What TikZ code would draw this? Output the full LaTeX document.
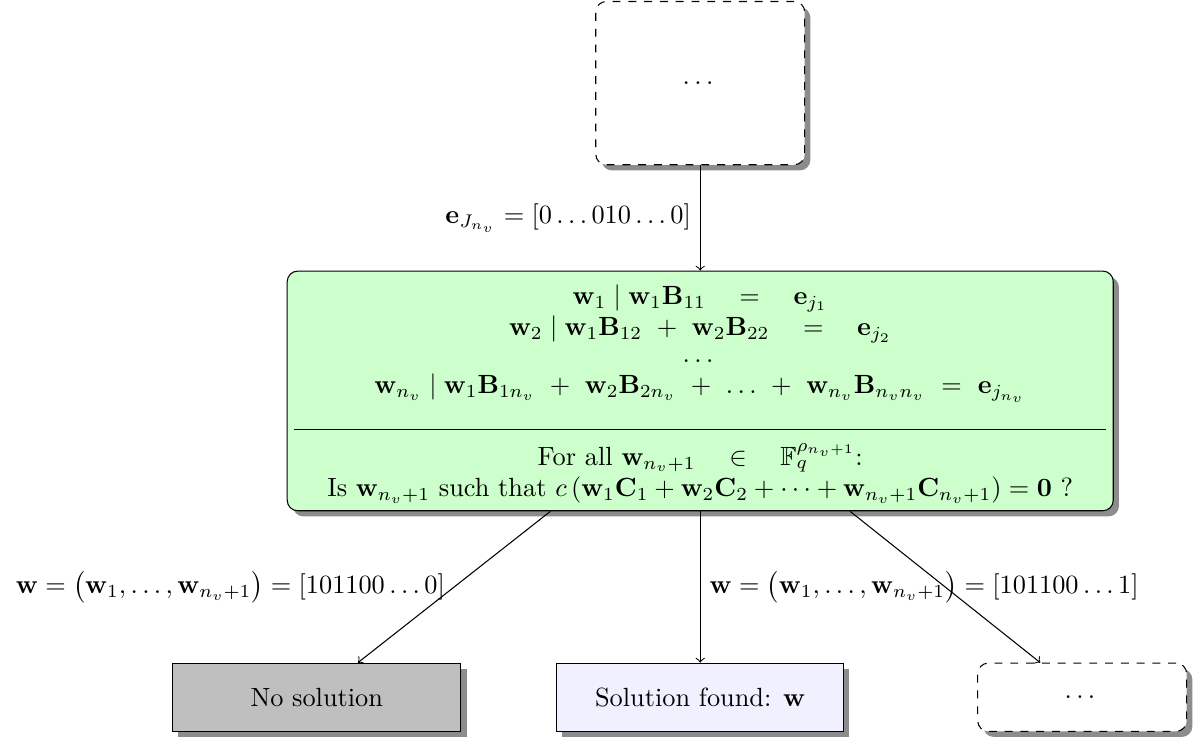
\documentclass[tikz,border=0pt]{standalone}
\usepackage{amsmath,amssymb}
\usetikzlibrary{shadows,calc}

\begin{document}
\begin{tikzpicture}[>=to,
		box/.style={draw, fill=white, drop shadow={opacity=1, fill=black!45}, minimum height=0.91cm},
		morebox/.style={box, dashed, rounded corners}]
		\useasboundingbox (0,0) rectangle (15.97,-9.855);
		\node[morebox, minimum width=2.79cm, minimum height=2.18cm] (top) at (9.35,-1.11) {$\dots$};
		\node[box, rounded corners, fill=green!20, minimum width=11.03cm, minimum height=3.2cm] (check) at (9.35,-5.22) {};
		\node[align=center] (eqs) at ($(check.center)+(0,0.63)$) {%
			$\mathbf{w}_1 \mid \mathbf{w}_1\mathbf{B}_{11} \quad = \quad \mathbf{e}_{j_1}$\\
			$\mathbf{w}_2 \mid \mathbf{w}_1\mathbf{B}_{12} \ + \ \mathbf{w}_2\mathbf{B}_{22} \quad = \quad \mathbf{e}_{j_2}$\\[-2pt]
			$\dots$\\
			$\mathbf{w}_{n_v} \mid \mathbf{w}_1\mathbf{B}_{1n_v} \ + \ \mathbf{w}_2\mathbf{B}_{2n_v} \ + \ \ldots \ + \ \mathbf{w}_{n_v}\mathbf{B}_{n_vn_v} \ = \ \mathbf{e}_{j_{n_v}}$};
		\draw ($(check.west)+(0.1,-0.52)$) -- ($(check.east)+(-0.1,-0.52)$);
		\node[align=center] (test) at ($(check.center)+(0,-1.1)$) {%
			For all $\mathbf{w}_{n_v+1} \quad \in \quad \mathbb{F}_q^{\rho_{n_v+1}}$:\\
			Is $\mathbf{w}_{n_v+1}$ such that $c\left(\mathbf{w}_1\mathbf{C}_1 + \mathbf{w}_2\mathbf{C}_2 + \cdots + \mathbf{w}_{n_v+1}\mathbf{C}_{n_v+1}\right) = \mathbf{0}$ ?};
		\node[box, fill=gray!50, minimum width=3.85cm] (nosol) at (4.23,-9.31) {No solution};
		\node[box, fill=blue!6, minimum width=3.83cm] (found) at (9.35,-9.31) {Solution found: $\mathbf{w}$};
		\node[morebox, minimum width=2.79cm] (more) at (14.45,-9.31) {$\dots$};
		% connectors
		\draw[->] (top) -- node[left] {$\mathbf{e}_{J_{n_v}} = [0\dots010\dots0]$} (check);
		\draw[->] ($(check.south)+(-2.0,0)$) -- node[left] {$\mathbf{w} = \bigl(\mathbf{w}_1,\dots,\mathbf{w}_{n_v+1}\bigr) = [101100\dots0]$} ($(nosol.north)+(0.55,0)$);
		\draw[->] (check) -- node[right] {$\mathbf{w} = \bigl(\mathbf{w}_1,\dots,\mathbf{w}_{n_v+1}\bigr) = [101100\dots1]$} (found);
		\draw[->] ($(check.south)+(2.0,0)$) -- ($(more.north)+(-0.56,0)$);
	\end{tikzpicture}
\end{document}
